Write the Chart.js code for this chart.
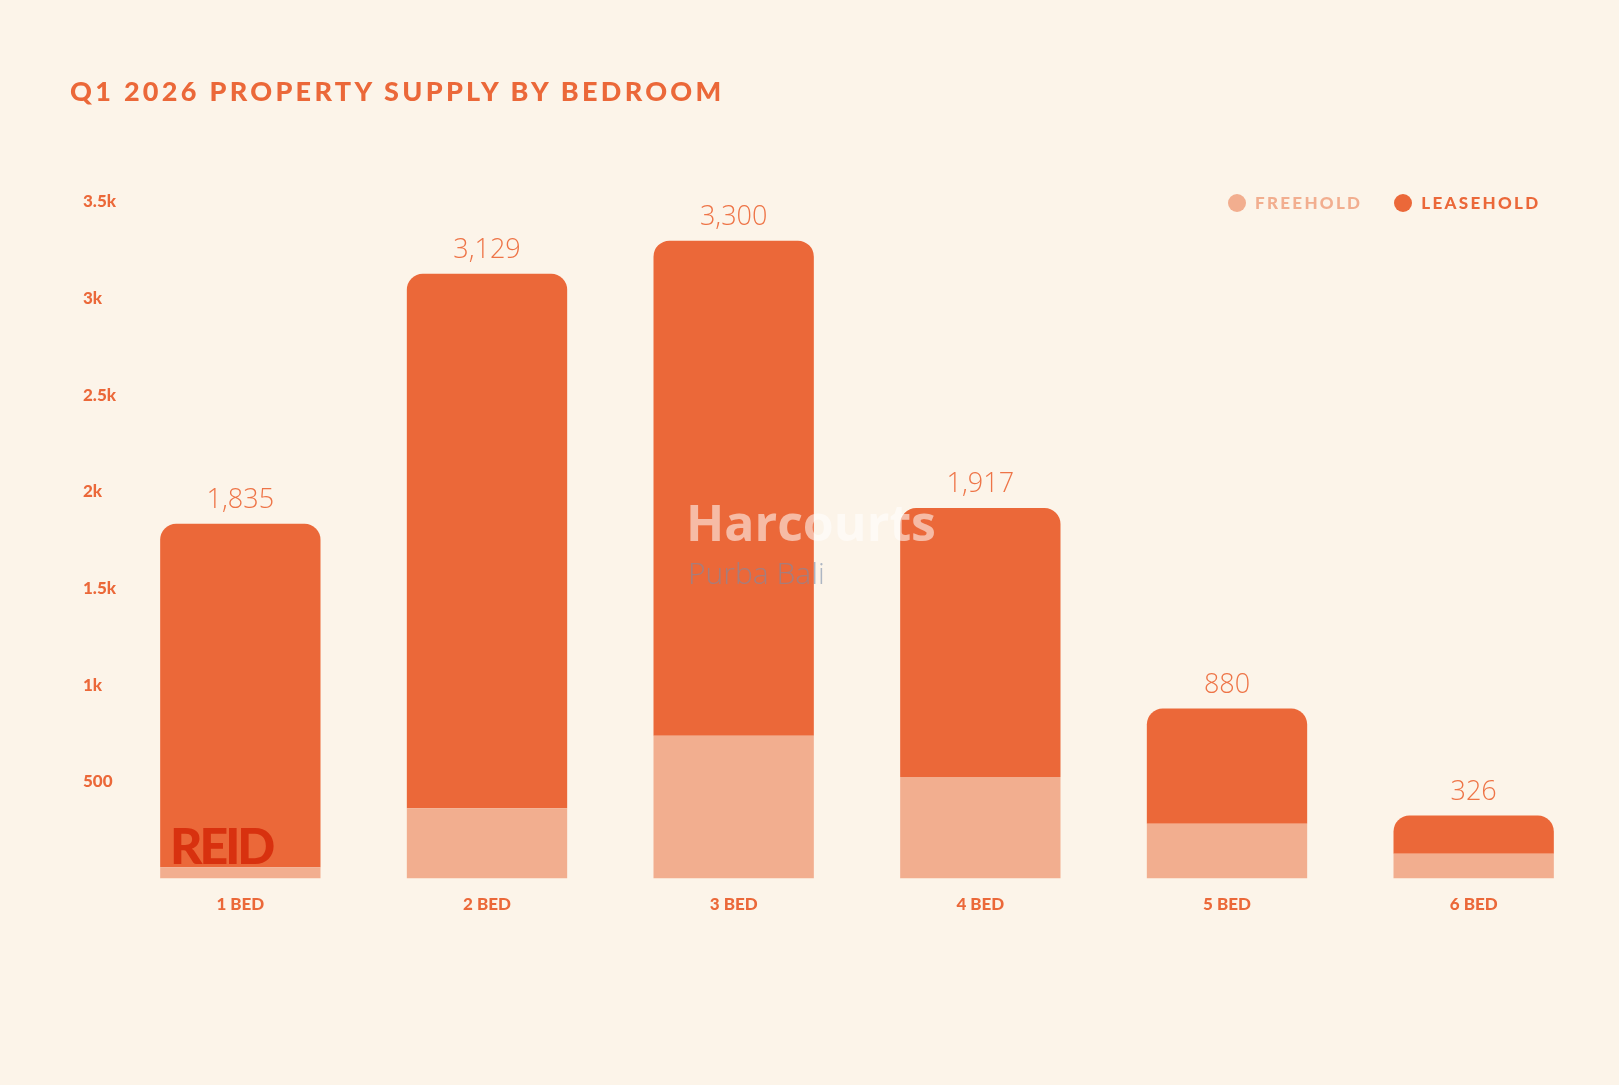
<!DOCTYPE html>
<html><head><meta charset="utf-8">
<script src="https://cdn.jsdelivr.net/npm/chart.js@4"></script>
<style>
html,body{margin:0;padding:0;background:#fcf4e9;width:1619px;height:1085px;overflow:hidden;font-family:Lato,sans-serif}
#t{position:absolute;left:70px;top:74px;font:900 27px Lato;letter-spacing:3.3px;color:#eb6839}
#wrap{position:absolute;left:0;top:0;width:1619px;height:1085px}
.wm1{position:absolute;left:686px;top:488px;font:700 50px "Open Sans";color:rgba(255,255,255,0.55)}
.wm2{position:absolute;left:688px;top:552px;font:300 30px "Open Sans";color:rgba(120,140,170,0.6)}
.wm3{position:absolute;left:170px;top:815px;font:900 50px Lato;color:#d8310f;letter-spacing:-3px}
#lg{position:absolute;left:1228px;top:192px;font:900 17px Lato;letter-spacing:2.3px;display:flex;gap:32px}
#lg span{display:flex;align-items:center}
#lg i{display:inline-block;width:18px;height:18px;border-radius:50%;margin-right:9px}
</style></head><body>
<div id="wrap"><canvas id="c" width="1619" height="1085"></canvas></div>
<div id="t">Q1 2026 PROPERTY SUPPLY BY BEDROOM</div>
<div id="lg"></div>
<div class="wm3">REID</div>
<div class="wm1">Harcourts</div>
<div class="wm2">Purba Bali</div>
<script>
const categories=['1 BED','2 BED','3 BED','4 BED','5 BED','6 BED'];
const totals=[1835,3129,3300,1917,880,326];
const freehold=[59,364,739,525,284,129];
const leasehold=[1776,2765,2561,1392,596,197];
const yTicks=[500,1000,1500,2000,2500,3000,3500];
const O='#eb6839',F='#f2ae8f';
const totalsPlugin={id:'tot',afterDatasetsDraw(ch){
 const ctx=ch.ctx,meta=ch.getDatasetMeta(1);
 ctx.save();ctx.font='300 27px "Open Sans"';ctx.fillStyle='#ee7447';ctx.textAlign='center';ctx.textBaseline='bottom';
 meta.data.forEach((b,i)=>ctx.fillText(totals[i].toLocaleString('en-US'),b.x,b.y-10));
 ctx.restore();}};
const ch=new Chart(document.getElementById('c'),{type:'bar',
data:{labels:categories,datasets:[
 {label:'FREEHOLD',data:freehold,backgroundColor:F,borderSkipped:false,borderRadius:0},
 {label:'LEASEHOLD',data:leasehold,backgroundColor:O,borderRadius:{topLeft:16,topRight:16},borderSkipped:false}]},
options:{responsive:false,animation:false,
 datasets:{bar:{categoryPercentage:1,barPercentage:0.65}},
 layout:{padding:{left:83,right:22,top:202,bottom:162}},
 plugins:{tooltip:{enabled:false},legend:{display:false}},
 scales:{
  x:{stacked:true,grid:{display:false},border:{display:false},ticks:{color:O,font:{family:'Lato',weight:'900',size:17},padding:8}},
  y:{stacked:true,min:0,max:3500,grid:{display:false},border:{display:false},
   afterBuildTicks(s){s.ticks=yTicks.map(v=>({value:v}));},
   afterFit(s){s.width=34;},
   ticks:{color:O,font:{family:'Lato',weight:'900',size:17},crossAlign:'far',padding:0,
    callback:v=>v>=1000?(v/1000)+'k':v}}}},
plugins:[totalsPlugin]});
document.getElementById('lg').innerHTML=ch.data.datasets.map(d=>`<span style="color:${d.backgroundColor}"><i style="background:${d.backgroundColor}"></i>${d.label}</span>`).join('');
</script></body></html>
